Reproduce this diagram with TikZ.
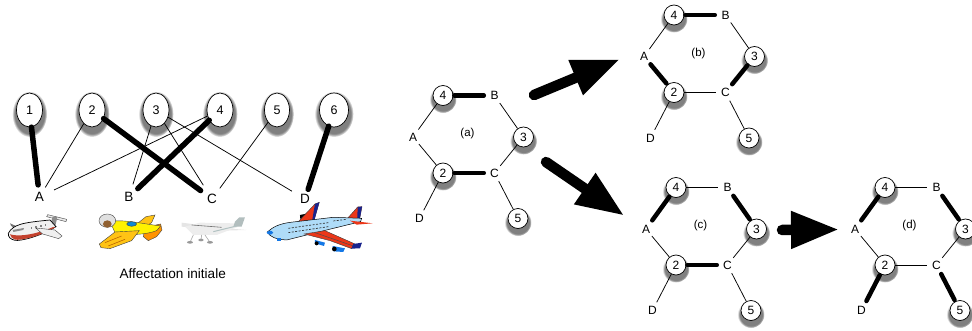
\documentclass[tikz,border=0pt]{standalone}
\usepackage{fontspec}
\setmainfont{Liberation Sans}
\usetikzlibrary{shapes.geometric,shadows,arrows.meta}
\definecolor{jetblue}{RGB}{175,220,248}
\definecolor{jetred}{RGB}{235,55,25}
\definecolor{jetnavy}{RGB}{25,35,140}
\definecolor{jetengine}{RGB}{20,120,230}
\definecolor{gold}{RGB}{255,195,20}
\definecolor{belly}{RGB}{195,65,45}
\tikzset{
 job/.style={ellipse,draw=black,line width=0.7pt,fill=white,inner sep=0pt,minimum width=26pt,minimum height=34pt,font=\fontsize{12.5}{13}\selectfont,
   circular drop shadow={shadow xshift=0pt,shadow yshift=-3pt,shadow scale=1.35}},
 hexjob/.style={circle,draw=black,line width=0.7pt,fill=white,inner sep=0pt,minimum size=20pt,font=\fontsize{12}{13}\selectfont,
   circular drop shadow={shadow xshift=0pt,shadow yshift=-3pt,shadow scale=1.35}},
 leftlab/.style={circle,inner sep=0pt,minimum size=22pt,font=\fontsize{13.5}{14}\selectfont},
 hexlab/.style={circle,inner sep=0pt,minimum size=18pt,font=\fontsize{12}{13}\selectfont},
 thin line/.style={line width=0.75pt},
 heavy/.style={line width=5.5pt,line cap=round,shorten >=1pt},
 hexheavy/.style={line width=4.5pt,line cap=round,shorten >=1.5pt,shorten <=1pt},
 bigarrow/.style={line cap=round,line width=10.5pt,-{Triangle[length=48pt,width=35pt]}},
 outl/.style={draw=black!75,line width=0.4pt},
}
\newcommand{\hexgraph}[5]{%
 \begin{scope}[shift={(#2,#3)}]
  \node[hexjob] (#1four) at (0,0) {4};
  \node[hexjob] (#1three) at (80.5,41.5) {3};
  \node[hexjob] (#1two) at (0,77.5) {2};
  \node[hexjob] (#1five) at (75,123) {5};
  \node[hexlab] (#1A) at (-30,41.5) {A};
  \node[hexlab] (#1B) at (51.5,0) {B};
  \node[hexlab] (#1C) at (51.5,77.5) {C};
  \node[hexlab] (#1D) at (-23.5,123) {D};
  \node[font=\fontsize{11.5}{12}\selectfont] (#1cap) at (24.5,38.5) {#4};
 \end{scope}
 \foreach \p/\q in {#5}{\draw[thin line] (#1\p) -- (#1\q);}
}
\begin{document}
\begin{tikzpicture}[x=1pt,y=-1pt]
\useasboundingbox (0,0) rectangle (972,331);
% left graph
\node[job] (j1) at (29.5,110) {1};
\node[job] (j2) at (92,110) {2};
\node[job] (j3) at (156,110) {3};
\node[job] (j4) at (220,110) {4};
\node[job,minimum width=25pt] (j5) at (277,110) {5};
\node[job,minimum width=29pt] (j6) at (334,110) {6};
\node[leftlab] (pA) at (39.5,197) {A};
\node[leftlab] (pB) at (129,197) {B};
\node[leftlab] (pC) at (212,199) {C};
\node[leftlab] (pD) at (305,199) {D};
\draw[thin line] (j2) -- (pA);
\draw[thin line,shorten >=5pt] (j4) -- (pA);
\draw[thin line,shorten >=2pt] (j3) -- (pB);
\draw[thin line,shorten >=5pt] (j3) -- (pC);
\draw[thin line,shorten >=2pt] (j5) -- (pC);
\draw[thin line,shorten >=4pt] (j3) -- (pD);
\draw[heavy] (j1) -- (pA);
\draw[heavy] (j4) -- (pB);
\draw[heavy,shorten >=3pt] (j2) -- (pC);
\draw[heavy,shorten >=-1pt] (j6) -- (pD);
\node[font=\fontsize{13.6}{15}\selectfont] (title) at (172.7,274) {Affectation initiale};
% planes (coordinates are 3x zoom units)
\begin{scope}[shift={(0,80)},x=0.3333pt,y=-0.3333pt]
 % plane 1
 \filldraw[fill=black!8,outl] (143,404) -- (200,418) -- (198,425) -- (140,410) -- cycle;
 \fill[black!45] (158,410) -- (172,412) -- (165,442) -- (148,442) -- cycle;
 \fill[black!55] (30,430) -- (52,440) -- (44,446) -- (33,437) -- cycle;
 \filldraw[fill=black!6,draw=black,line width=0.7pt] (25,460) .. controls (40,432) and (70,428) .. (150,420) -- (168,440) .. controls (120,470) and (60,484) .. (45,481) .. controls (30,478) and (24,470) .. (25,460) -- cycle;
 \fill[belly] (30,463) .. controls (60,472) and (110,462) .. (160,441) -- (165,442) .. controls (120,470) and (60,482) .. (46,479) .. controls (37,477) and (32,471) .. (30,463) -- cycle;
 \filldraw[fill=black!6,outl] (107,444) -- (165,450) -- (186,468) -- (176,476) -- (128,462) -- cycle;
 \fill[black!45] (38,450) -- (72,444) -- (70,450) -- (40,456) -- cycle;
 \foreach \k in {0,1,2,3}{\fill[black!50] (92+\k*14,440-\k*3) rectangle ++(5,6);}
 % plane 2
 \filldraw[fill=orange!85!yellow,outl] (435,442) -- (482,432) -- (486,450) -- (470,470) -- (445,482) -- (430,470) -- cycle;
 \filldraw[fill=gold,outl] (408,434) -- (438,410) -- (465,405) -- (455,428) -- (430,444) -- cycle;
 \filldraw[fill=yellow,outl] (330,424) .. controls (370,418) and (420,430) .. (482,438) -- (470,452) .. controls (440,464) and (380,468) .. (345,458) -- cycle;
 \filldraw[fill=gold,outl] (298,492) -- (345,456) -- (418,452) -- (395,482) -- (330,506) -- (303,503) -- cycle;
 \draw[orange!70!black,line width=0.5pt] (315,488) -- (365,468) (325,498) -- (375,478);
 \filldraw[fill=cyan!70!blue,outl] (395,432) ellipse (15 and 7);
 \filldraw[fill=black!12,outl] (322,422) ellipse (25 and 20);
 \fill[brown!75!black] (322,432) ellipse (13 and 11);
 % plane 3
 \fill[black!10] (545,428) -- (680,445) -- (740,450) -- (670,452) -- (545,440) -- cycle;
 \fill[black!7] (555,440) -- (600,428) -- (700,430) -- (715,440) -- (650,465) -- (580,465) -- cycle;
 \fill[teal!30!black!30] (705,425) -- (718,412) -- (735,412) -- (725,440) -- (700,440) -- cycle;
 \draw[black!55,line width=0.6pt] (575,435) -- (665,442);
 \draw[teal!40!black!30,line width=1pt] (640,455) -- (710,438);
 \draw[black!35,line width=0.6pt] (580,465) -- (570,487) (605,465) -- (603,480) (615,465) -- (630,487);
 \fill[black!40] (570,487) ellipse (9 and 4) (603,480) ellipse (8 and 4) (630,487) ellipse (9 and 4);
 % plane 4
 \fill[black] (900,405) -- (925,400) -- (930,420) -- (902,425) -- cycle;
 \filldraw[fill=jetred,outl] (895,425) -- (945,372) -- (958,367) -- (940,428) -- cycle;
 \fill[jetnavy] (945,372) -- (958,367) -- (942,425) -- (936,425) -- cycle;
 \filldraw[fill=jetred,outl] (1040,418) -- (1073,381) -- (1086,380) -- (1078,422) -- cycle;
 \fill[jetnavy] (1073,381) -- (1086,380) -- (1079,420) -- (1072,420) -- cycle;
 \filldraw[fill=jetblue,draw=black,line width=0.5pt] (802,456) .. controls (820,440) and (840,430) .. (880,426) -- (1000,412) -- (1085,415) -- (1082,425) -- (980,450) -- (860,480) .. controls (830,478) and (810,472) .. (802,456) -- cycle;
 \fill[jetred] (1050,422) -- (1118,430) -- (1070,434) -- cycle;
 \fill[jetengine] (800,458) .. controls (805,450) and (815,450) .. (820,458) .. controls (815,466) and (805,466) .. (800,458) -- cycle;
 \draw[black!80,line width=0.7pt,dash pattern=on 2pt off 1.5pt] (865,445) -- (985,428) (865,458) -- (985,440) (1000,423) -- (1040,418);
 \fill[jetengine] (945,480) -- (975,488) -- (972,498) -- (945,490) -- cycle (998,498) -- (1035,505) -- (1030,516) -- (1000,514) -- cycle;
 \fill[black] (950,490) circle (6) (1003,507) circle (7);
 \fill[jetengine] (830,473) rectangle (842,483);
 \filldraw[fill=jetred,outl] (913,462) -- (975,452) -- (1065,492) -- (1055,506) -- (990,482) -- cycle;
 \draw[black!70,line width=0.5pt] (945,458) -- (1060,498);
 \fill[jetnavy] (1060,492) -- (1086,488) -- (1080,505) -- (1054,506) -- cycle;
\end{scope}
% hex graphs
\hexgraph{a}{443}{95.5}{(a)}{A/four,A/two,two/D,three/B,three/C,C/five}
\draw[hexheavy] (afour) -- (aB);
\draw[hexheavy] (atwo) -- (aC);
\hexgraph{b}{674}{15}{(b)}{A/four,two/D,three/B,two/C,C/five}
\draw[hexheavy] (bfour) -- (bB);
\draw[hexheavy] (bA) -- (btwo);
\draw[hexheavy] (bthree) -- (bC);
\hexgraph{c}{676}{187.5}{(c)}{four/B,A/two,two/D,three/C,C/five}
\draw[hexheavy] (cfour) -- (cA);
\draw[hexheavy] (cB) -- (cthree);
\draw[hexheavy] (ctwo) -- (cC);
\hexgraph{d}{885}{187.5}{(d)}{four/B,A/two,two/D,three/C,two/C}
\draw[hexheavy] (dfour) -- (dA);
\draw[hexheavy] (dB) -- (dthree);
\draw[hexheavy] (dtwo) -- (dD);
\draw[hexheavy] (dC) -- (dfive);
% big arrows
\coordinate (s1) at (534,95); \coordinate (e1) at (620,59.3);
\coordinate (s2) at (546,162); \coordinate (e2) at (624.3,215.7);
\coordinate (s3) at (782,230); \coordinate (e3) at (839,229.5);
\draw[bigarrow] (s1) -- (e1);
\draw[bigarrow] (s2) -- (e2);
\draw[bigarrow] (s3) -- (e3);
\end{tikzpicture}
\end{document}
